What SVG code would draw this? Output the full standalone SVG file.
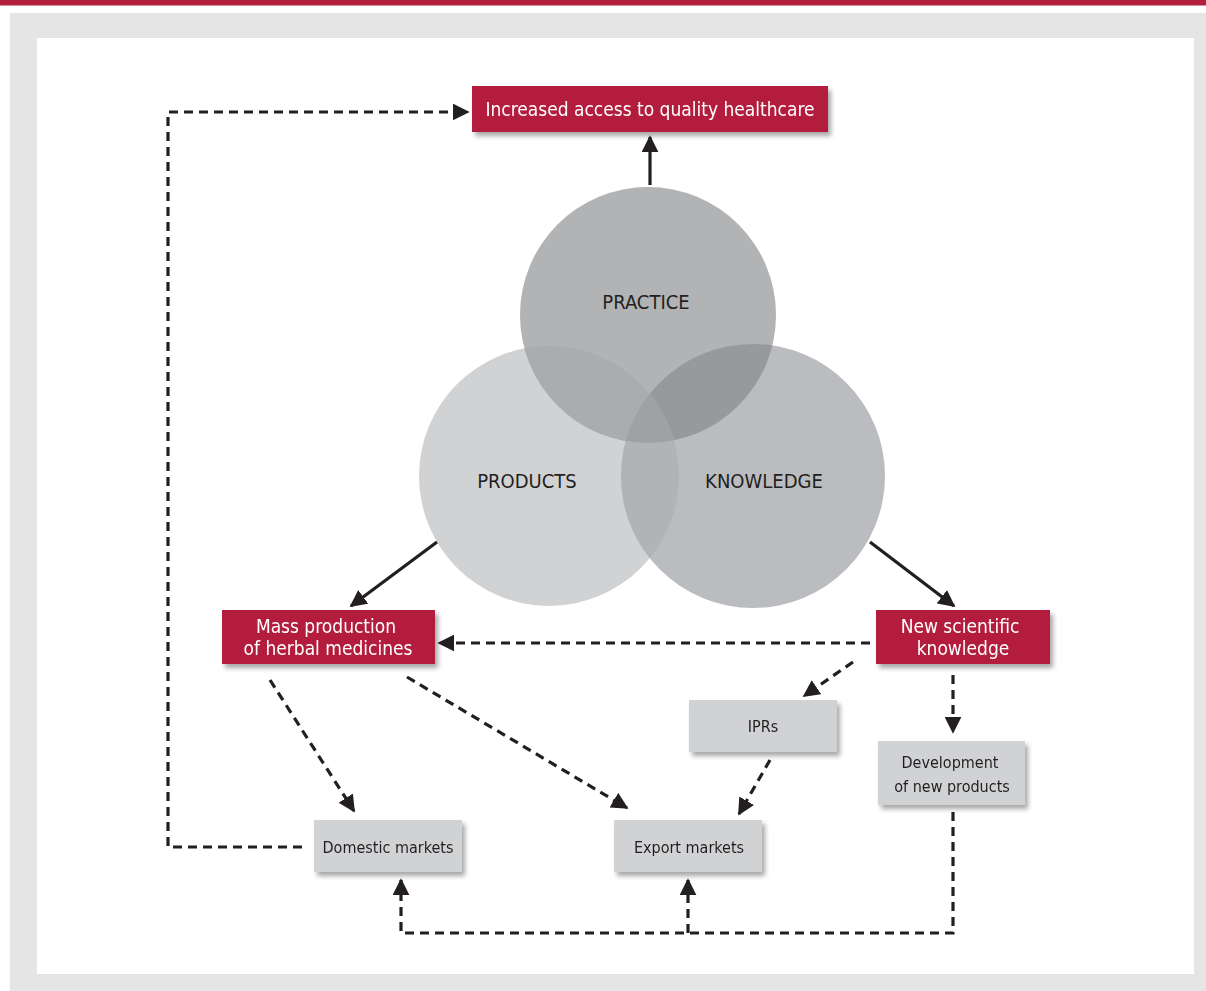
<svg xmlns="http://www.w3.org/2000/svg" width="1206" height="991" viewBox="0 0 1206 991">
<style>
.red{fill:#b31e3c}
.grey{fill:#d1d2d4}
.wt{fill:#ffffff;font-family:"Liberation Sans Narrow","DejaVu Sans Condensed","Liberation Sans",sans-serif;font-size:19px;text-anchor:middle}
.dt{fill:#231f20;font-family:"Liberation Sans Narrow","DejaVu Sans Condensed","Liberation Sans",sans-serif;font-size:16px;text-anchor:middle}
.ct{fill:#231f20;font-family:"Liberation Sans Narrow","DejaVu Sans Condensed","Liberation Sans",sans-serif;font-size:20px;text-anchor:middle}
.solid{fill:none;stroke:#231f20;stroke-width:3.2}
.dash{fill:none;stroke:#231f20;stroke-width:3.2;stroke-dasharray:9 6}
</style>
<defs>
<filter id="sh" x="-10%" y="-20%" width="130%" height="160%">
<feGaussianBlur in="SourceAlpha" stdDeviation="2.5"/>
<feOffset dx="3" dy="4" result="b"/>
<feComponentTransfer><feFuncA type="linear" slope="0.35"/></feComponentTransfer>
<feMerge><feMergeNode/><feMergeNode in="SourceGraphic"/></feMerge>
</filter>
<marker id="ah" viewBox="0 0 10 10" refX="9" refY="5" markerWidth="17" markerHeight="17" markerUnits="userSpaceOnUse" orient="auto">
<path d="M0,0 L10,5 L0,10 z" fill="#231f20"/>
</marker>
<clipPath id="cP"><circle cx="648" cy="315" r="128"/></clipPath>
<clipPath id="cD"><circle cx="549" cy="476" r="130"/></clipPath>
<clipPath id="cK"><circle cx="753" cy="476" r="132"/></clipPath>
</defs>
<rect x="0" y="0" width="1206" height="991" fill="#ffffff"/>
<rect x="0" y="0" width="1206" height="5.5" class="red"/>
<rect x="10" y="13" width="1196" height="978" fill="#e5e5e5"/>
<rect x="37" y="38" width="1157" height="936" fill="#ffffff"/>

<g id="venn">
<circle cx="549" cy="476" r="130" fill="#d1d2d4"/>
<circle cx="753" cy="476" r="132" fill="#bbbcbf"/>
<circle cx="648" cy="315" r="128" fill="#b1b3b4"/>
<circle cx="648" cy="315" r="128" fill="#abacae" clip-path="url(#cD)"/>
<circle cx="648" cy="315" r="128" fill="#98999c" clip-path="url(#cK)"/>
<circle cx="549" cy="476" r="130" fill="#b1b3b5" clip-path="url(#cK)"/>
<g clip-path="url(#cK)"><circle cx="648" cy="315" r="128" fill="#a0a1a4" clip-path="url(#cD)"/></g>
<text id="t-practice" x="646" y="309" class="ct">PRACTICE</text>
<text id="t-products" x="527" y="488" class="ct">PRODUCTS</text>
<text id="t-knowledge" x="764" y="488" class="ct">KNOWLEDGE</text>
</g>

<g id="connectors">
<line x1="650" y1="185" x2="650" y2="137" class="solid" marker-end="url(#ah)"/>
<line x1="437" y1="542" x2="351" y2="606" class="solid" marker-end="url(#ah)"/>
<line x1="870" y1="542" x2="954" y2="606" class="solid" marker-end="url(#ah)"/>
<line x1="870" y1="643" x2="439" y2="643" class="dash" marker-end="url(#ah)"/>
<line x1="853" y1="662" x2="804" y2="696" class="dash" marker-end="url(#ah)"/>
<line x1="953" y1="675" x2="953" y2="732" class="dash" marker-end="url(#ah)"/>
<line x1="770" y1="760" x2="739" y2="814" class="dash" marker-end="url(#ah)"/>
<line x1="270" y1="680" x2="354" y2="811" class="dash" marker-end="url(#ah)"/>
<line x1="407" y1="677" x2="627" y2="808" class="dash" marker-end="url(#ah)"/>
<path d="M302,847 H168 V112 H468" class="dash" marker-end="url(#ah)"/>
<path d="M953,812 V933 H401 V880" class="dash" marker-end="url(#ah)"/>
<path d="M688,933 V880" class="dash" marker-end="url(#ah)"/>
</g>

<g id="n-access" filter="url(#sh)">
<rect x="472" y="86" width="356" height="46" class="red"/>
<text x="650" y="116" class="wt">Increased access to quality healthcare</text>
</g>
<g id="n-mass" filter="url(#sh)">
<rect x="222" y="610" width="213" height="54" class="red"/>
<text x="326" y="633" class="wt">Mass production</text>
<text x="328" y="655" class="wt">of herbal medicines</text>
</g>
<g id="n-newsci" filter="url(#sh)">
<rect x="876" y="610" width="174" height="54" class="red"/>
<text x="960" y="633" class="wt">New scientific</text>
<text x="963" y="655" class="wt">knowledge</text>
</g>
<g id="n-iprs" filter="url(#sh)">
<rect x="689" y="700" width="148" height="52" class="grey"/>
<text x="763" y="732" class="dt">IPRs</text>
</g>
<g id="n-dev" filter="url(#sh)">
<rect x="878" y="741" width="147" height="64" class="grey"/>
<text x="950" y="768" class="dt">Development</text>
<text x="952" y="792" class="dt">of new products</text>
</g>
<g id="n-domestic" filter="url(#sh)">
<rect x="314" y="820" width="148" height="52" class="grey"/>
<text x="388" y="853" class="dt">Domestic markets</text>
</g>
<g id="n-export" filter="url(#sh)">
<rect x="614" y="820" width="148" height="52" class="grey"/>
<text x="689" y="853" class="dt">Export markets</text>
</g>
</svg>
